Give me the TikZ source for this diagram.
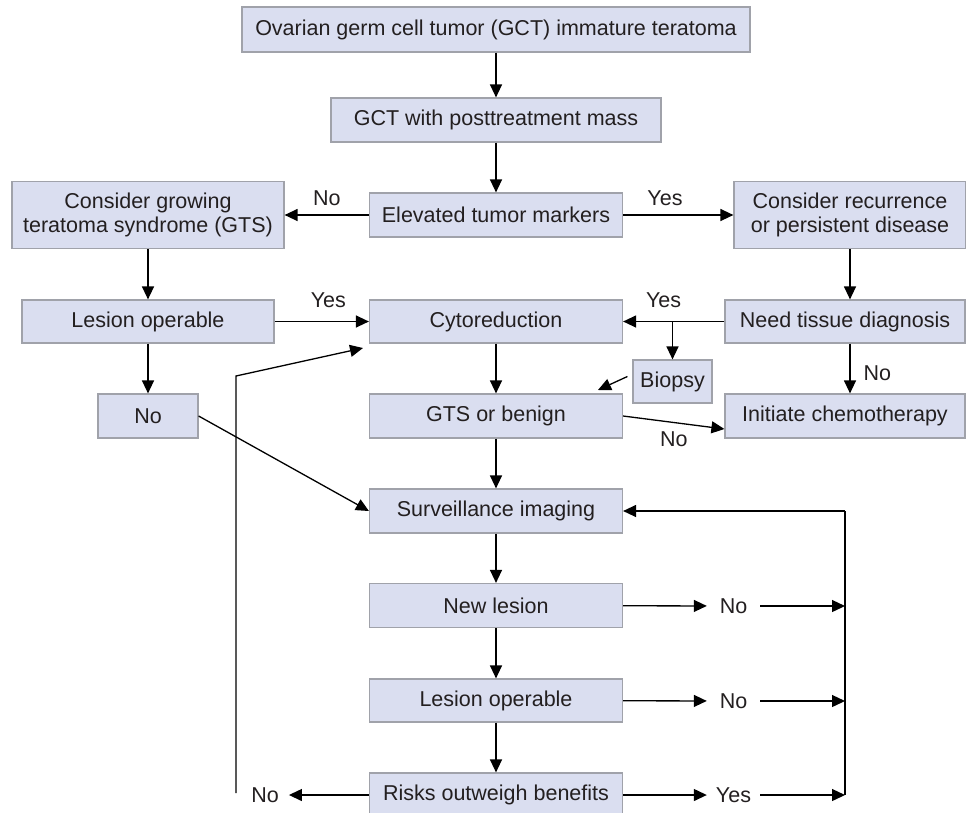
\documentclass[tikz,border=0pt]{standalone}
\usepackage{fontspec}
\setmainfont{Liberation Sans}
\usetikzlibrary{positioning, arrows.meta, calc}

\definecolor{boxfill}{RGB}{218,222,240}
\definecolor{boxline}{RGB}{160,162,170}
\definecolor{ink}{RGB}{35,31,32}

\begin{document}
\begin{tikzpicture}[
    x=1pt, y=-1pt,
    font=\fontsize{21.5}{24}\selectfont,
    box/.style={rectangle, draw=boxline, fill=boxfill, line width=1.2pt, minimum width=253pt, minimum height=44pt, inner sep=0pt, align=center, text=ink},
    tag/.style={inner sep=0pt, text=ink},
    link/.style={draw, line width=1.3pt, -{Triangle[length=13pt, width=12pt]}}
]
\useasboundingbox (0,0) rectangle (966,812);

% Main column
\node[box, minimum width=508pt, minimum height=45pt] (Ovarian) at (496,29.5) {Ovarian germ cell tumor (GCT) immature teratoma};
\node[box, minimum width=330pt] (Mass) at (496,120) {GCT with posttreatment mass};
\node[box] (Markers) at (496,215) {Elevated tumor markers};
\node[box, minimum height=43pt] (Cyto) at (496,321.5) {Cytoreduction};
\node[box] (Benign) at (496,416) {GTS or benign};
\node[box] (Surv) at (496,511) {Surveillance imaging};
\node[box] (NewLesion) at (496,605.5) {New lesion};
\node[box, minimum height=43pt] (OperB) at (496,700.5) {Lesion operable};
\node[box] (Risks) at (496,795) {Risks outweigh benefits};

% Left branch
\node[box, minimum width=272pt, minimum height=67pt] (GTS) at (148,215) {Consider growing\\teratoma syndrome (GTS)};
\node[box, minimum width=252pt, minimum height=43pt] (OperL) at (148,321.5) {Lesion operable};
\node[box, minimum width=100pt] (NoL) at (148,416) {No};

% Right branch
\node[box, minimum width=232pt, minimum height=67pt] (Recur) at (850,215) {Consider recurrence\\or persistent disease};
\node[box, minimum width=240pt, minimum height=43pt] (Tissue) at (845,321.5) {Need tissue diagnosis};
\node[box, minimum width=79pt, minimum height=43pt] (Biopsy) at (672.5,381.5) {Biopsy};
\node[box, minimum width=240pt] (Chemo) at (845,416) {Initiate chemotherapy};

% Outcome tags
\node[tag, minimum width=53pt] (NewNo) at (733.5,606) {No};
\node[tag, minimum width=53pt] (OperNo) at (733.5,701) {No};
\node[tag, minimum width=53pt] (RiskYes) at (733.5,795) {Yes};
\node[tag, inner xsep=10pt] (RiskNo) at (265,795) {No};

\coordinate (RailTop) at (845,511);
\coordinate (RailBot) at (845,795);
\coordinate (LoopBot) at (236,793);
\coordinate (LoopBend) at (236,376);
\coordinate (CytoIn) at (363,348);
\coordinate (BenignIn) at (598,390);

% Connections
\draw[link] (Ovarian) -- (Mass);
\draw[link] (Mass) -- (Markers);
\draw[link] (Markers) -- node[tag, above=9pt] {No} (GTS);
\draw[link] (Markers) -- node[tag, above=9pt, pos=0.38] {Yes} (Recur);
\draw[link] (GTS) -- (OperL);
\draw[link] (OperL) -- (NoL);
\draw[link] (OperL) -- node[tag, above=13pt, pos=0.57] {Yes} (Cyto);
\draw[link] (Recur) -- (Recur |- Tissue.north);
\draw[link] (Tissue) -- node[tag, above=13pt, pos=0.6] {Yes} (Cyto);
\draw[link] (Tissue.west -| Biopsy) -- (Biopsy);
\draw[link] (Tissue.south -| Recur) -- node[tag, right=13pt, pos=0.6] {No} (Chemo.north -| Recur);
\draw[link] ([xshift=-5pt, yshift=5pt]Biopsy.west) -- (BenignIn);
\draw[link] (Cyto) -- (Benign);
\draw[link] (Benign.east) -- node[tag, below=9pt] {No} ([yshift=-13pt]Chemo.west);
\draw[link] (Benign) -- (Surv);
\draw[link] (NoL.east) -- (Surv.west);
\draw[link] (Surv) -- (NewLesion);
\draw[link] (NewLesion) -- (OperB);
\draw[link] (OperB) -- (Risks);

\draw[link] (NewLesion) -- (NewNo);
\draw[link] (OperB) -- (OperNo);
\draw[link] (Risks) -- (RiskYes);
\draw[link] (NewNo) -- (NewNo -| RailTop);
\draw[link] (OperNo) -- (OperNo -| RailTop);
\draw[link] (RiskYes) -- (RiskYes -| RailTop);
\draw[line width=1.3pt] (RailBot) -- (RailTop);
\draw[link] (RailTop) -- (Surv);

\draw[link] (Risks) -- (RiskNo);
\draw[link] (LoopBot) -- (LoopBend) -- (CytoIn);

\end{tikzpicture}
\end{document}
